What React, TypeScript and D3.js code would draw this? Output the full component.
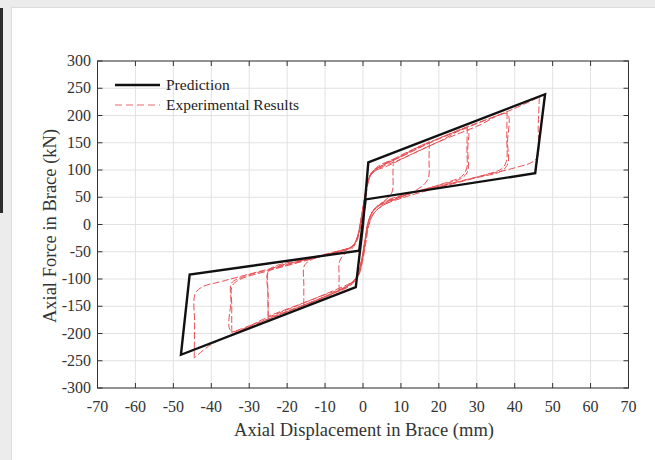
import React from "react";
import * as d3 from "d3";

const W = 655;
const H = 460;

const xTicks = [-70, -60, -50, -40, -30, -20, -10, 0, 10, 20, 30, 40, 50, 60, 70];
const yTicks = [-300, -250, -200, -150, -100, -50, 0, 50, 100, 150, 200, 250, 300];

const xTitle = "Axial Displacement in Brace (mm)";
const yTitle = "Axial Force in Brace (kN)";
const legendLabels = ["Prediction", "Experimental Results"];

// Prediction (black)
const predDisp = [0, 1.4, 48, 45.4, 0.7, -1, -45.7, -48, -1.9, 0];
const predForce = [0, 114, 239, 94, 46, -48, -92, -239, -115, 0];

// Experimental (red) branches [displacement, force]
const load1: [number, number][] = [[0, 0], [0.6, 40], [1.3, 75], [2.3, 95], [4, 107], [6, 114], [8, 120]];
const unload1: [number, number][] = [[8, 120], [7.9, 95], [7.8, 63], [7, 52], [5, 40], [3, 28], [1.6, 10], [0.8, -20], [0.1, -55], [-0.8, -85], [-2, -103], [-4, -115], [-6.3, -123]];
const reload1: [number, number][] = [[-6.3, -123], [-6.3, -95], [-6.2, -68], [-5, -55], [-3, -45], [-1.6, -30], [-0.6, 0], [0.3, 40], [1.1, 72], [2.1, 92], [4, 104], [8, 120], [12, 134], [17.5, 152]];
const unload2: [number, number][] = [[17.5, 152], [17.4, 120], [17.3, 87], [16.3, 75], [14, 63], [10, 50], [6, 40], [3, 27], [1.5, 5], [0.6, -30], [-0.3, -65], [-1.3, -92], [-3, -108], [-6, -120], [-10, -133], [-15.6, -148]];
const reload2: [number, number][] = [[-15.6, -148], [-15.6, -110], [-15.5, -76], [-14, -66], [-10, -56], [-6, -48], [-3, -41], [-1.5, -25], [-0.5, 10], [0.4, 48], [1.2, 78], [2.3, 95], [4.5, 106], [8, 118], [14, 140], [20, 158], [27.5, 179]];
const unload3: [number, number][] = [[27.5, 179], [27.4, 140], [27.3, 102], [26, 88], [22, 77], [15, 62], [10, 51], [6, 41], [3, 28], [1.5, 6], [0.5, -32], [-0.4, -68], [-1.5, -95], [-3.5, -110], [-8, -126], [-15, -146], [-25, -172]];
const reload3: [number, number][] = [[-25, -172], [-25, -130], [-24.9, -85], [-23, -76], [-15, -63], [-8, -51], [-3, -41], [-1.4, -22], [-0.4, 15], [0.5, 52], [1.3, 80], [2.4, 96], [5, 108], [10, 124], [20, 158], [30, 186], [38, 206]];
const unload4: [number, number][] = [[38, 206], [37.9, 160], [37.8, 116], [36.5, 102], [32, 91], [22, 73], [12, 56], [6, 42], [3, 28], [1.4, 5], [0.4, -35], [-0.5, -70], [-1.6, -96], [-4, -113], [-10, -133], [-20, -160], [-30, -186], [-34.6, -198]];
const reload4: [number, number][] = [[-34.6, -198], [-34.6, -150], [-34.5, -113], [-32.5, -101], [-25, -85], [-15, -66], [-7, -51], [-3, -42], [-1.3, -20], [-0.3, 18], [0.6, 55], [1.4, 82], [2.5, 97], [5, 108], [10, 125], [20, 157], [30, 185], [40, 213], [46.5, 234]];
const unload5: [number, number][] = [[46.5, 234], [46.2, 180], [46, 124], [44.5, 114], [40, 104], [30, 87], [20, 70], [10, 53], [5, 40], [2.5, 24], [1.2, 0], [0.3, -38], [-0.6, -72], [-1.8, -98], [-4.5, -115], [-10, -132], [-20, -160], [-30, -188], [-40, -220], [-44.5, -245]];
const reload5: [number, number][] = [[-44.5, -245], [-44.4, -180], [-44.3, -128], [-42.5, -115], [-37, -104], [-25, -82], [-15, -64], [-6, -48], [-2.5, -38], [-1, -12], [0, 20]];

// repeated cycles (second pass at same amplitudes)
const repeatT: [number, number][] = [[0, 20], [0.8, 62], [1.7, 86], [3, 98], [6, 106], [12, 126], [20, 152], [27.5, 175], [27.6, 138], [27.6, 98], [26, 85], [20, 72], [12, 56], [6, 38], [3, 22], [1.6, 0], [0.7, -36], [-0.2, -70], [-1.2, -94], [-3, -106], [-8, -122], [-15, -142], [-25, -168]];
const repeatC: [number, number][] = [[-25, -168], [-25.1, -125], [-25.1, -88], [-23, -78], [-16, -66], [-8, -53], [-3.5, -44], [-1.8, -30], [-0.8, 0], [0.2, 38], [1, 70], [2, 90], [4, 102], [10, 120], [20, 152], [30, 180], [38, 203], [38.1, 150], [38.2, 112], [36.5, 98], [30, 86], [20, 68], [10, 48], [5, 34], [2.6, 18], [1.3, -5], [0.4, -40], [-0.5, -74], [-1.7, -97], [-4, -112], [-12, -134], [-25, -170], [-34.8, -195], [-34.8, -140], [-34.7, -108], [-32, -97], [-22, -78], [-12, -60], [-5, -47], [-2.2, -36], [-1, -10]];

const expBranches = [load1, unload1, reload1, unload2, reload2, unload3, reload3, unload4, reload4, unload5, reload5, repeatT, repeatC];

const FONT = "'Liberation Serif', 'Times New Roman', serif";

export default function App() {
  const left = 97.5, right = 628.5, top = 61, bottom = 388;
  const x = d3.scaleLinear().domain([-70, 70]).range([left, right]);
  const y = d3.scaleLinear().domain([-300, 300]).range([bottom, top]);

  const predPts: [number, number][] = predDisp.map((d, i) => [d, predForce[i]]);
  const predLine = d3.line<[number, number]>().x(d => x(d[0])).y(d => y(d[1]));
  const expLine = d3
    .line<[number, number]>()
    .x(d => x(d[0]))
    .y(d => y(d[1]))
    .curve(d3.curveCatmullRom.alpha(0.5));

  const red = "#e3262c";
  const tick = 5;

  return (
    <svg width={W} height={H} style={{ position: "absolute", left: 0, top: 0 }} fontFamily={FONT}>
      <rect x={0} y={0} width={W} height={H} fill="#ececec" />
      <rect x={0} y={8} width={3} height={205} fill="#2b2b2b" />
      <rect x={11.5} y={7.5} width={W} height={H} fill="#ffffff" stroke="#dcdcdc" />

      {/* grid */}
      {xTicks.map(t => (
        <line key={"gx" + t} x1={x(t)} x2={x(t)} y1={top} y2={bottom} stroke="#e2e2e2" strokeWidth={1} />
      ))}
      {yTicks.map(t => (
        <line key={"gy" + t} x1={left} x2={right} y1={y(t)} y2={y(t)} stroke="#e2e2e2" strokeWidth={1} />
      ))}

      {/* experimental */}
      <g fill="none" stroke={red} strokeWidth={1} strokeDasharray="7,2.5" opacity={0.8}>
        {expBranches.map((b, i) => (
          <path key={"e" + i} d={expLine(b) || ""} />
        ))}
      </g>

      {/* prediction */}
      <path d={predLine(predPts) || ""} fill="none" stroke="#111" strokeWidth={2.4} strokeLinejoin="miter" />

      {/* box */}
      <rect x={left} y={top} width={right - left} height={bottom - top} fill="none" stroke="#333" strokeWidth={1} />

      {/* ticks */}
      {xTicks.map(t => (
        <g key={"tx" + t}>
          <line x1={x(t)} x2={x(t)} y1={bottom} y2={bottom - tick} stroke="#333" />
          <line x1={x(t)} x2={x(t)} y1={top} y2={top + tick} stroke="#333" />
          <text x={x(t)} y={412} textAnchor="middle" fontSize={16} fill="#333">
            {t}
          </text>
        </g>
      ))}
      {yTicks.map(t => (
        <g key={"ty" + t}>
          <line x1={left} x2={left + tick} y1={y(t)} y2={y(t)} stroke="#333" />
          <line x1={right} x2={right - tick} y1={y(t)} y2={y(t)} stroke="#333" />
          <text x={91} y={y(t) + 5} textAnchor="end" fontSize={16} fill="#333">
            {t}
          </text>
        </g>
      ))}

      {/* titles */}
      <text x={364} y={436} textAnchor="middle" fontSize={18.5} fill="#333">
        {xTitle}
      </text>
      <text
        transform={`translate(56, 226) rotate(-90)`}
        textAnchor="middle"
        fontSize={18.5}
        fill="#333"
      >
        {yTitle}
      </text>

      {/* legend */}
      <line x1={115} x2={160} y1={85} y2={85} stroke="#111" strokeWidth={2.6} />
      <text x={166} y={90} fontSize={15.5} fill="#222">
        {legendLabels[0]}
      </text>
      <line x1={115} x2={160} y1={105} y2={105} stroke={red} strokeWidth={1} strokeDasharray="7,4" opacity={0.7} />
      <text x={166} y={110} fontSize={15.5} fill="#222">
        {legendLabels[1]}
      </text>
    </svg>
  );
}
